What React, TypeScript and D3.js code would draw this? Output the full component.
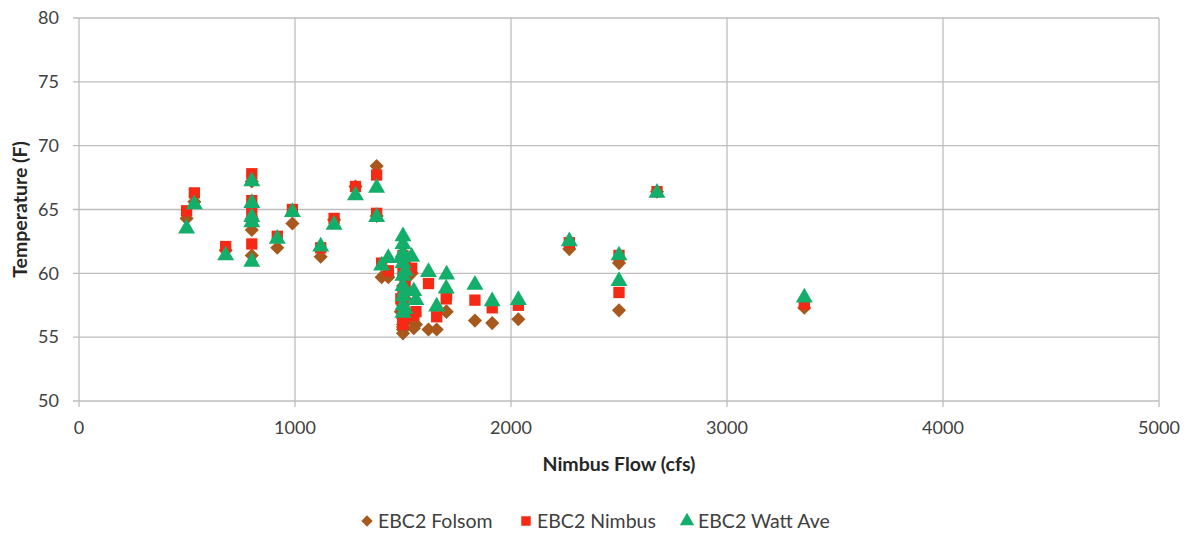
import React from "react";
import * as d3 from "d3";

const flows = [498, 534, 679, 800, 800, 800, 800, 800, 918, 988, 1119, 1181, 1280, 1378, 1378, 1401, 1432,
  1500, 1500, 1500, 1500, 1500, 1500, 1500, 1500, 1500, 1510, 1510, 1510, 1490,
  1540, 1550, 1560, 1618, 1656, 1700, 1702, 1833, 1913, 2034, 2270, 2500, 2500, 2676, 3358];
const folsom = [64.3, 65.6, 61.8, 67.2, 65.3, 64.3, 63.4, 61.4, 62.0, 63.9, 61.3, 64.2, 66.8, 68.4, 64.5, 59.7, 59.7,
  61.0, 60.5, 59.0, 57.5, 56.0, 55.8, 55.6, 55.3, 56.5, 58.0, 59.5, 56.2, 57.0,
  60.0, 55.7, 56.0, 55.6, 55.6, 57.0, 57.0, 56.3, 56.1, 56.4, 61.9, 60.8, 57.1, 66.4, 57.3];
const nimbus = [64.9, 66.3, 62.1, 67.8, 65.7, 64.8, 64.1, 62.3, 62.9, 65.0, 62.0, 64.3, 66.8, 67.7, 64.7, 60.8, 60.2,
  61.4, 61.2, 60.0, 58.5, 56.9, 56.4, 56.2, 56.0, 57.5, 59.0, 60.6, 56.6, 58.0,
  60.4, 56.7, 57.0, 59.2, 56.6, 58.0, 58.3, 57.9, 57.3, 57.5, 62.4, 61.4, 58.5, 66.4, 57.6];
const watt = [63.5, 65.4, 61.4, 67.2, 65.5, 64.4, 64.0, 60.9, 62.7, 64.8, 62.1, 63.8, 66.1, 66.7, 64.4, 60.6, 61.2,
  62.9, 62.3, 61.6, 60.8, 59.8, 59.0, 58.2, 57.5, 56.9, 60.2, 58.6, 57.2, 61.2,
  61.3, 58.6, 57.9, 60.1, 57.4, 58.8, 59.9, 59.1, 57.8, 57.9, 62.5, 61.4, 59.4, 66.3, 58.1];

const xTicks = [0, 1000, 2000, 3000, 4000, 5000];
const yTicks = [50, 55, 60, 65, 70, 75, 80];
const seriesNames = ["EBC2 Folsom", "EBC2 Nimbus", "EBC2 Watt Ave"];
const colors = ["#A8581C", "#F62A14", "#14AE6B"];

const FONT = "Lato, 'Open Sans', sans-serif";

export default function App() {
  const W = 1193, H = 537;
  const left = 79, right = 1159, top = 18, bottom = 401;
  const x = d3.scaleLinear().domain([0, 5000]).range([left, right]);
  const y = d3.scaleLinear().domain([50, 80]).range([bottom, top]);

  const diamond = d3.symbol().type(d3.symbolSquare).size(100)();
  const square = d3.symbol().type(d3.symbolSquare).size(128)();
  const triangle = d3.symbol().type(d3.symbolTriangle).size(125)();
  const shapes = [diamond, square, triangle];
  const rot = [45, 0, 0];
  const data = [folsom, nimbus, watt];

  const legendX = [367, 526, 687];

  return (
    <svg width={W} height={H} style={{ position: "absolute", left: 0, top: 0, background: "#fff" }}>
      {yTicks.map((t) => (
        <line key={"gy" + t} x1={left - 6} x2={right} y1={y(t)} y2={y(t)} stroke="#BDBDBD" strokeWidth={1.3} />
      ))}
      {xTicks.map((t) => (
        <line key={"gx" + t} x1={x(t)} x2={x(t)} y1={top} y2={bottom + 6} stroke="#BDBDBD" strokeWidth={1.3} />
      ))}
      {yTicks.map((t) => (
        <text key={"ty" + t} x={left - 20} y={y(t)} dy="0.35em" textAnchor="end" fontFamily={FONT} fontSize={18} fill="#404040">
          {t}
        </text>
      ))}
      {xTicks.map((t) => (
        <text key={"tx" + t} x={x(t)} y={bottom + 27} dy="0.35em" textAnchor="middle" fontFamily={FONT} fontSize={18} fill="#404040">
          {t}
        </text>
      ))}
      <text transform={`translate(20,${(top + bottom) / 2}) rotate(-90)`} textAnchor="middle" dy="0.35em"
        fontFamily={FONT} fontSize={19.5} fontWeight="bold" fill="#262626">
        Temperature (F)
      </text>
      <text x={(left + right) / 2} y={464} textAnchor="middle" dy="0.35em" fontFamily={FONT} fontSize={19.5} fontWeight="bold" fill="#262626">
        Nimbus Flow (cfs)
      </text>
      {data.map((vals, si) => (
        <g key={"s" + si} fill={colors[si]}>
          {vals.map((v, i) => (
            <path key={i} d={shapes[si]!} transform={`translate(${x(flows[i])},${y(v)}) rotate(${rot[si]})`} />
          ))}
        </g>
      ))}
      {seriesNames.map((n, si) => (
        <g key={"l" + si} transform={`translate(${legendX[si]},521)`}>
          <path d={d3.symbol().type(si === 2 ? d3.symbolTriangle : d3.symbolSquare).size(si === 0 ? 64 : si === 1 ? 90 : 90)()!}
            transform={`rotate(${rot[si]})`} fill={colors[si]} />
          <text x={11} dy="0.35em" fontFamily={FONT} fontSize={19.5} fill="#404040">{n}</text>
        </g>
      ))}
    </svg>
  );
}
